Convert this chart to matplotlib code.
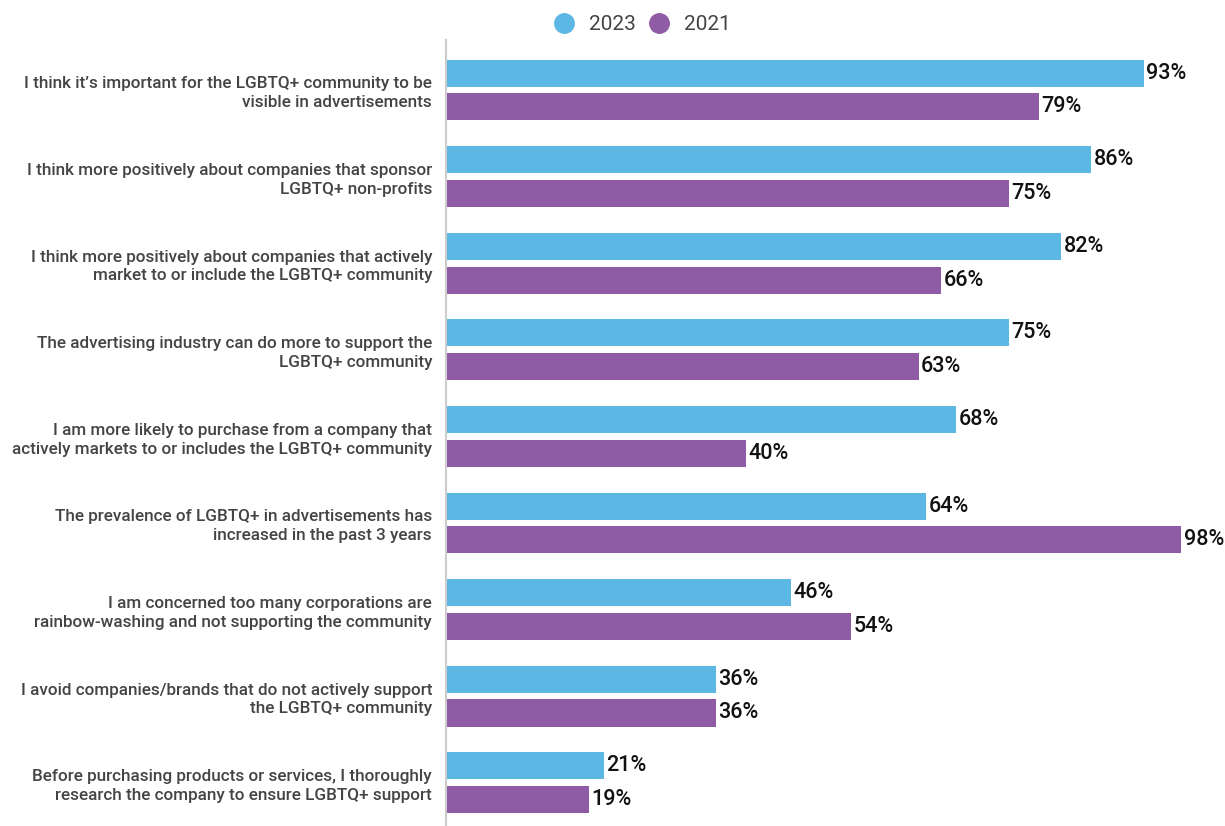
import matplotlib.pyplot as plt
import numpy as np
from matplotlib.lines import Line2D

plt.rcParams['font.family'] = ['Roboto', 'DejaVu Sans']

statements = [
    "I think it\u2019s important for the LGBTQ+ community to be\nvisible in advertisements",
    "I think more positively about companies that sponsor\nLGBTQ+ non-profits",
    "I think more positively about companies that actively\nmarket to or include the LGBTQ+ community",
    "The advertising industry can do more to support the\nLGBTQ+ community",
    "I am more likely to purchase from a company that\nactively markets to or includes the LGBTQ+ community",
    "The prevalence of LGBTQ+ in advertisements has\nincreased in the past 3 years",
    "I am concerned too many corporations are\nrainbow-washing and not supporting the community",
    "I avoid companies/brands that do not actively support\nthe LGBTQ+ community",
    "Before purchasing products or services, I thoroughly\nresearch the company to ensure LGBTQ+ support",
]
pct_2023 = [93, 86, 82, 75, 68, 64, 46, 36, 21]
pct_2021 = [79, 75, 66, 63, 40, 98, 54, 36, 19]

BLUE = '#5db7e5'
PURPLE = '#8f5ba5'

fig = plt.figure(figsize=(12.25, 8.26), dpi=100)
ax = fig.add_axes([446 / 1225, 0, 750.5 / 1225, 1 - 40 / 826])

y = np.arange(len(statements))
h = 0.312
off = 0.195
ax.barh(y - off, pct_2023, height=h, color=BLUE)
ax.barh(y + off, pct_2021, height=h, color=PURPLE)

for yi, a, b in zip(y, pct_2023, pct_2021):
    ax.text(a + 0.3, yi - off, f"{a}%", va='center', ha='left',
            fontsize=15.5, fontweight='medium', color='#111111')
    ax.text(b + 0.3, yi + off, f"{b}%", va='center', ha='left',
            fontsize=15.5, fontweight='medium', color='#111111')

ax.set_xlim(0, 100)
ax.set_ylim(8.5, -0.577)
ax.set_yticks(y)
ax.set_yticklabels(statements, fontsize=12.3, fontweight='medium',
                   color='#444444', linespacing=1.32)
ax.tick_params(axis='y', length=0, pad=10)
ax.set_xticks([])
for side in ['top', 'right', 'bottom']:
    ax.spines[side].set_visible(False)
ax.spines['left'].set_color('#cccccc')
ax.spines['left'].set_linewidth(1.5)

handles = [
    Line2D([], [], marker='o', linestyle='none', markersize=14, color=BLUE, label='2023'),
    Line2D([], [], marker='o', linestyle='none', markersize=14, color=PURPLE, label='2021'),
]
fig.legend(handles=handles, loc='center', bbox_to_anchor=(637 / 1225, 1 - 25 / 826),
           ncol=2, frameon=False, fontsize=15, labelcolor='#444444',
           handletextpad=0.2, columnspacing=0.1)

fig.savefig('out.png', dpi=100)
